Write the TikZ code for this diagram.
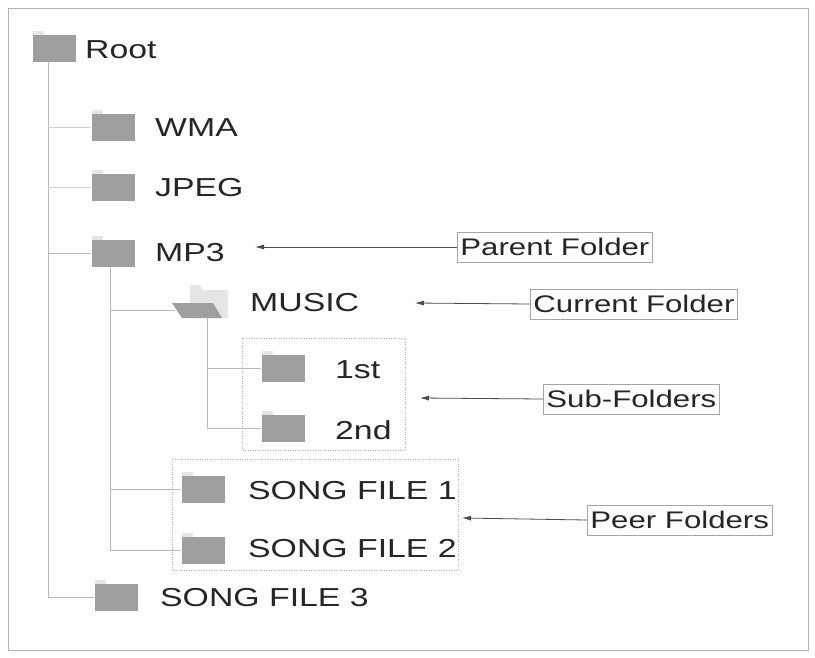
\documentclass[tikz,border=0pt]{standalone}
\usepackage{fontspec}
\usetikzlibrary{arrows.meta}
\setmainfont{Liberation Sans}
\newcommand{\wtxt}[1]{\scalebox{1.3}[1]{#1}}
\begin{document}
\begin{tikzpicture}[x=1pt,y=-1pt,
  fold/.style={fill=gray!75!white,draw=none,minimum width=43pt,minimum height=27pt,inner sep=0pt},
  tab/.style={fill=gray!20,draw=none},
  lbl/.style={anchor=west,font=\fontsize{26}{28}\selectfont,inner sep=0pt,text=black!85},
  tag/.style={draw=gray!70,line width=0.8pt,font=\fontsize{24}{26}\selectfont,inner sep=3pt,minimum height=30pt,text=black!85},
  br/.style={draw=gray!55,line width=0.9pt},
  grp/.style={draw=gray!60,dash pattern=on 1pt off 1.5pt,line width=0.6pt},
  arr/.style={draw=black!70,line width=0.8pt,-{Latex[length=9pt,width=5pt]}}]
\useasboundingbox (0,0) rectangle (815,657);
\fill[white] (0,0) rectangle (815,657);
\draw[gray!60,line width=1pt] (8,8) rectangle (808,650);
\newcommand{\folder}[3]{\fill[tab] (#2-21,#3-17) rectangle (#2-10,#3-13);
  \node[fold] (#1) at (#2,#3) {};}
\folder{root}{54}{48}
\node[lbl] (troot) at (85,50) {\wtxt{Root}};
\folder{wma}{113}{127}
\node[lbl] (twma) at (155,128) {\wtxt{WMA}};
\folder{jpeg}{113}{187}
\node[lbl] (tjpeg) at (155,188) {\wtxt{JPEG}};
\folder{mp3}{113}{253}
\node[lbl] (tmp3) at (155,253) {\wtxt{MP3}};
\fill[gray!20] (190,285) -- (200,285) -- (202,290) -- (228,290) -- (228,318) -- (190,318) -- cycle;
\fill[gray!75] (172,303) -- (213,303) -- (222,318) -- (182,318) -- cycle;
\coordinate (musicl) at (175,310);
\node[lbl] (tmusic) at (250,303) {\wtxt{MUSIC}};
\folder{s1}{283}{368}
\node[lbl] (t1) at (335,370) {\wtxt{1st}};
\folder{s2}{283}{428}
\node[lbl] (t2) at (335,430) {\wtxt{2nd}};
\folder{p1}{203}{489}
\node[lbl] (tp1) at (248,491) {\wtxt{SONG FILE 1}};
\folder{p2}{203}{550}
\node[lbl] (tp2) at (248,549) {\wtxt{SONG FILE 2}};
\folder{p3}{116}{597}
\node[lbl] (tp3) at (160,598) {\wtxt{SONG FILE 3}};
\coordinate (rv) at (48,62);
\coordinate (rvb) at (48,597);
\draw[br] (rv) -- (rvb) -- (p3.west);
\draw[br,gray!35] (48,127) -- (wma.west);
\draw[br,gray!35] (48,187) -- (jpeg.west);
\draw[br] (48,253) -- (mp3.west);
\coordinate (mv) at (110,267);
\draw[br] (mv) -- (110,550) -- (p2.west);
\draw[br] (110,489) -- (p1.west);
\draw[br] (110,310) -- (musicl);
\coordinate (muv) at (207,318);
\draw[br] (muv) -- (207,428) -- (s2.west);
\draw[br] (207,368) -- (s1.west);
\draw[grp] (242,338) rectangle (405,450);
\draw[grp] (172,459) rectangle (458,570);
\node[tag,anchor=west] (parent) at (457,247) {\wtxt{Parent Folder}};
\node[tag,anchor=west] (current) at (530,304) {\wtxt{Current Folder}};
\node[tag,anchor=west] (sub) at (543,399) {\wtxt{Sub-Folders}};
\node[tag,anchor=west] (peer) at (587,520) {\wtxt{Peer Folders}};
\coordinate (ap) at (255,247);
\coordinate (ac) at (415,303);
\coordinate (as) at (420,398);
\coordinate (ape) at (462,518);
\draw[arr] (parent.west) -- (ap);
\draw[arr] (current.west) -- (ac);
\draw[arr] (sub.west) -- (as);
\draw[arr] (peer.west) -- (ape);
\end{tikzpicture}
\end{document}
